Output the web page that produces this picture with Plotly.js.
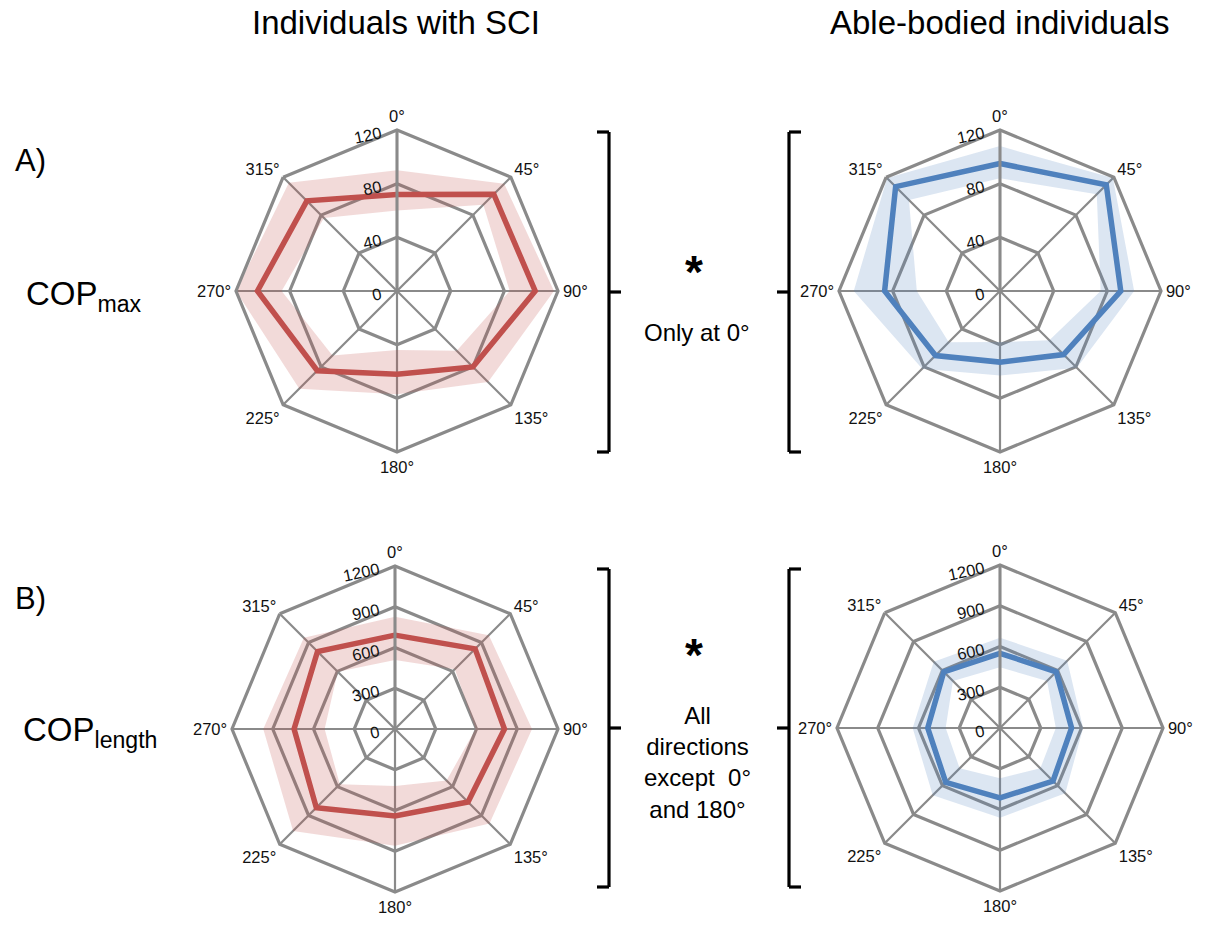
<!DOCTYPE html>
<html>
<head>
<meta charset="utf-8">
<script src="https://cdn.plot.ly/plotly-3.0.1.min.js"></script>
<style>
  html, body { margin: 0; padding: 0; background: #ffffff; }
  #chart { width: 1205px; height: 926px; }
</style>
</head>
<body>
<div id="chart"></div>
<script>
// Perturbation directions (angular categories)
const directions = ['0°', '45°', '90°', '135°', '180°', '225°', '270°', '315°'];

// COPmax – individuals with SCI (mean, mean+SD, mean-SD)
const sciMaxMean  = [72, 102, 103, 80, 62, 84, 104, 95];
const sciMaxUpper = [90, 113, 117, 96, 77, 103, 120, 114];
const sciMaxLower = [60, 91, 84, 63, 44, 68, 86, 77];

// COPmax – able-bodied individuals
const abMaxMean  = [95, 112, 90, 67, 53, 68, 86, 110];
const abMaxUpper = [108, 119, 100, 81, 63, 82, 109, 119];
const abMaxLower = [84, 102, 75, 52, 38, 54, 62, 96];

// COPlength – individuals with SCI
const sciLenMean  = [691, 834, 806, 760, 640, 819, 743, 807];
const sciLenUpper = [826, 977, 1009, 984, 860, 1061, 970, 949];
const sciLenLower = [508, 623, 594, 537, 420, 575, 518, 596];

// COPlength – able-bodied individuals
const abLenMean  = [550, 585, 527, 552, 515, 565, 532, 585];
const abLenUpper = [665, 700, 612, 680, 660, 700, 643, 690];
const abLenLower = [447, 490, 411, 420, 370, 420, 400, 490];

// Radial ticks
const maxTicks = [0, 40, 80, 120];
const lenTicks = [0, 300, 600, 900, 1200];

const W = 1205, H = 926;
const GRID = '#8a8a8a';
const RED = '#c0504d', RED_BAND = 'rgba(192,80,77,0.21)';
const BLUE = '#4f81bd', BLUE_BAND = 'rgba(79,129,189,0.2)';
const FONT = 'Liberation Sans, Arial, Helvetica, sans-serif';

const closeRing = a => a.concat([a[0]]);
const theta = closeRing(directions);

function bandTraces(sub, mean, upper, lower, lineColor, bandColor) {
  return [
    { type: 'scatterpolar', subplot: sub, r: closeRing(lower), theta: theta,
      mode: 'lines', line: { width: 0, color: bandColor }, hoverinfo: 'skip', showlegend: false },
    { type: 'scatterpolar', subplot: sub, r: closeRing(upper), theta: theta,
      mode: 'lines', line: { width: 0, color: bandColor }, fill: 'tonext', fillcolor: bandColor,
      hoverinfo: 'skip', showlegend: false },
    { type: 'scatterpolar', subplot: sub, r: closeRing(mean), theta: theta,
      mode: 'lines', line: { width: 5.5, color: lineColor }, showlegend: false }
  ];
}

function dom(cx, cy, r) {
  return { x: [(cx - r) / W, (cx + r) / W], y: [1 - (cy + r) / H, 1 - (cy - r) / H] };
}

function polarLayout(domain, range, ticks) {
  return {
    domain: domain,
    bgcolor: 'rgba(0,0,0,0)',
    gridshape: 'linear',
    hole: 0,
    angularaxis: {
      type: 'category', categoryarray: directions, rotation: 90, direction: 'clockwise',
      showline: true, linecolor: GRID, linewidth: 3.2,
      showgrid: true, gridcolor: GRID, gridwidth: 2.2,
      ticks: '', tickfont: { family: FONT, size: 16.5, color: '#111' }
    },
    radialaxis: {
      range: range, tickvals: ticks, ticktext: ticks.map(String),
      angle: 90, side: 'counterclockwise', tickangle: 78,
      showline: true, linecolor: GRID, linewidth: 3,
      showgrid: true, gridcolor: GRID, gridwidth: 3.2,
      ticks: '', tickfont: { family: FONT, size: 16.5, color: '#111' }
    }
  };
}

const data = [].concat(
  bandTraces('polar',  sciMaxMean, sciMaxUpper, sciMaxLower, RED,  RED_BAND),
  bandTraces('polar2', abMaxMean,  abMaxUpper,  abMaxLower,  BLUE, BLUE_BAND),
  bandTraces('polar3', sciLenMean, sciLenUpper, sciLenLower, RED,  RED_BAND),
  bandTraces('polar4', abLenMean,  abLenUpper,  abLenLower,  BLUE, BLUE_BAND)
);

function ann(text, x, y, size, opts) {
  return Object.assign({
    text: text, xref: 'paper', yref: 'paper', x: x / W, y: 1 - y / H,
    showarrow: false, xanchor: 'center', yanchor: 'middle',
    font: { family: FONT, size: size, color: '#000' }
  }, opts || {});
}

function seg(x0, y0, x1, y1) {
  return { type: 'line', xref: 'paper', yref: 'paper',
    x0: x0 / W, y0: 1 - y0 / H, x1: x1 / W, y1: 1 - y1 / H,
    line: { color: '#000', width: 3.2 } };
}

// Square brackets linking the two groups of each row
function rightBracket(x, top, bot) {
  const mid = (top + bot) / 2;
  return [seg(x - 12, top, x, top), seg(x, top, x, bot), seg(x - 12, bot, x, bot), seg(x, mid, x + 12, mid)];
}
function leftBracket(x, top, bot) {
  const mid = (top + bot) / 2;
  return [seg(x + 12, top, x, top), seg(x, top, x, bot), seg(x + 12, bot, x, bot), seg(x, mid, x - 12, mid)];
}

const layout = {
  width: W, height: H,
  margin: { l: 0, r: 0, t: 0, b: 0 },
  paper_bgcolor: '#ffffff',
  showlegend: false,
  polar:  polarLayout(dom(397, 291, 161), [0, 120], maxTicks),
  polar2: polarLayout(dom(1000, 291, 161), [0, 120], maxTicks),
  polar3: polarLayout(dom(395, 729, 163), [0, 1200], lenTicks),
  polar4: polarLayout(dom(1000, 728, 163), [0, 1200], lenTicks),
  shapes: [].concat(
    rightBracket(609, 132, 452), leftBracket(789, 132, 452),
    rightBracket(609, 569, 887), leftBracket(789, 569, 887)
  ),
  annotations: [
    ann('Individuals with SCI', 396, 22, 33),
    ann('Able-bodied individuals', 999, 22, 33),
    ann('A)', 13, 160, 31, { xanchor: 'left' }),
    ann('B)', 13, 598, 31, { xanchor: 'left' }),
    ann('COP<sub>max</sub>', 24, 296, 33, { xanchor: 'left' }),
    ann('COP<sub>length</sub>', 21, 732, 33, { xanchor: 'left' }),
    ann('<b>*</b>', 694, 272, 46),
    ann('Only at 0°', 697, 333, 24),
    ann('<b>*</b>', 694, 655, 46),
    ann('All<br>directions<br>except  0°<br>and 180°', 697, 762, 24)
  ]
};

Plotly.newPlot('chart', data, layout, { staticPlot: true, displayModeBar: false });
</script>
</body>
</html>
